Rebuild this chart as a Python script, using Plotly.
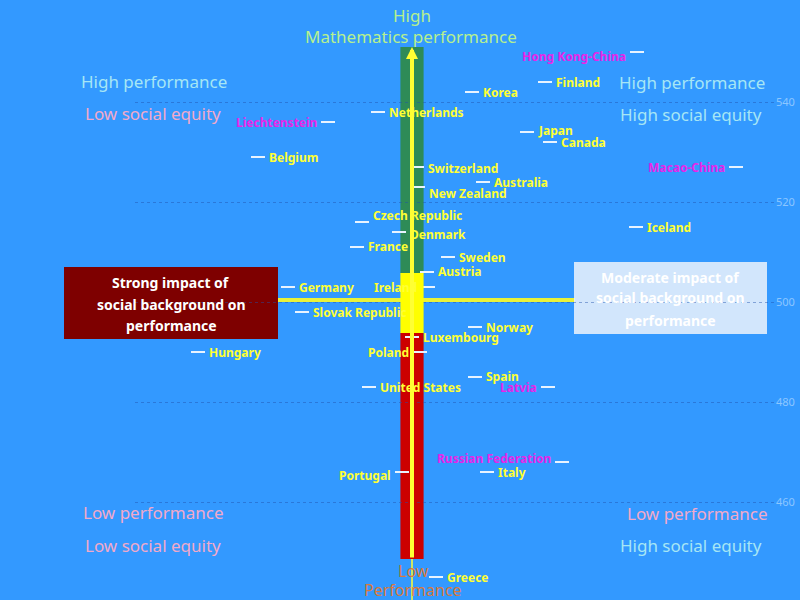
import plotly.graph_objects as go

# ---------------- data ----------------
countries = ["Hong Kong-China", "Finland", "Korea", "Netherlands", "Liechtenstein",
             "Japan", "Canada", "Belgium", "Macao-China", "Switzerland", "Australia",
             "New Zealand", "Czech Republic", "Iceland", "Denmark", "France", "Sweden",
             "Austria", "Germany", "Ireland", "Slovak Republic", "Norway", "Luxembourg",
             "Poland", "Hungary", "Spain", "United States", "Latvia",
             "Russian Federation", "Portugal", "Italy", "Greece"]
# percentage of variance in performance explained by social background
variance = [8.9, 13.5, 17.15, 21.85, 24.35,
            14.4, 13.25, 27.85, 3.95, 19.9, 16.6,
            19.85, 22.65, 8.95, 20.8, 22.9, 18.35,
            19.4, 26.35, 19.35, 25.65, 17.0, 20.15,
            19.75, 30.85, 17.0, 22.3, 13.35,
            12.65, 20.65, 16.4, 18.95]
math_score = [550, 544, 542, 538, 536,
              534, 532, 529, 527, 527, 524,
              523, 516, 515, 514, 511, 509,
              506, 503, 503, 498, 495, 493,
              490, 490, 485, 483, 483,
              468, 466, 466, 445]
partner = [True, False, False, False, True,
           False, False, False, True, False, False,
           False, False, False, False, False, False,
           False, False, False, False, False, False,
           False, False, False, False, True,
           True, False, False, False]
# label placement (style): side of the dash and vertical nudge in px (positive = up)
label_side = ["l", "r", "r", "r", "l",
              "r", "r", "r", "l", "r", "r",
              "r", "r", "r", "r", "r", "r",
              "r", "r", "l", "r", "r", "r",
              "l", "r", "r", "r", "l",
              "l", "l", "r", "r"]
label_dy = [-4, 0, 0, 0, 0,
            2, 0, 0, 0, -1, 0,
            -6, 7, 0, -2, 1, 0,
            1, 0, 0, 0, 0, 0,
            0, 0, 1, 0, 0,
            4, -3, 0, 0]

y_ticks = [460, 480, 500, 520, 540]

# ---------------- reference structure ----------------
OECD_X = 20.15          # OECD average strength of relationship
OECD_Y = 500.4          # OECD average performance
BAND_HALF = 0.58
GREEN_TOP, YELLOW_TOP, YELLOW_BOT, RED_BOT = 551, 505.8, 493.8, 448.6
X_RANGE = [34, 2]
Y_RANGE = [440.4, 560.4]

BG = "#3399FF"
YEL = "#FFFF33"
MAG = "#E825E8"
CYAN = "#A6E6F5"
PINK = "#F2A9C9"
GREEN_T = "#B6F08E"
ORANGE = "#D9793C"

ML, MR = 135, 25
PW = 800 - ML - MR


def fx(px):
    return (px - ML) / PW


def fy(py):
    return 1 - py / 600


fig = go.Figure()

fig.add_trace(go.Scatter(
    x=variance, y=math_score, mode="markers",
    marker=dict(symbol="line-ew", size=10, line=dict(color="#E8F3FF", width=2)),
    cliponaxis=False, hoverinfo="skip", showlegend=False))

annotations = []
for c, xv, yv, p, side, dy in zip(countries, variance, math_score, partner, label_side, label_dy):
    annotations.append(dict(
        x=xv, y=yv, xref="x", yref="y", text=c, showarrow=False,
        xanchor="left" if side == "r" else "right", yanchor="middle",
        xshift=9 if side == "r" else -9, yshift=dy,
        font=dict(family="Noto Sans", size=12, color=MAG if p else YEL, weight="bold")))

shapes = []
# vertical band
shapes.append(dict(type="rect", xref="x", yref="y", x0=OECD_X - BAND_HALF, x1=OECD_X + BAND_HALF,
                   y0=YELLOW_TOP, y1=GREEN_TOP, fillcolor="#2E8B57", line=dict(width=0), layer="below"))
shapes.append(dict(type="rect", xref="x", yref="y", x0=OECD_X - BAND_HALF, x1=OECD_X + BAND_HALF,
                   y0=RED_BOT, y1=YELLOW_BOT, fillcolor="#CC0000", line=dict(width=0), layer="below"))
shapes.append(dict(type="rect", xref="x", yref="y", x0=OECD_X - BAND_HALF, x1=OECD_X + BAND_HALF,
                   y0=YELLOW_BOT, y1=YELLOW_TOP, fillcolor="#FFFF00", line=dict(width=0), layer="above"))
# thin line below band
shapes.append(dict(type="line", xref="x", yref="y", x0=OECD_X, x1=OECD_X, y0=Y_RANGE[0], y1=RED_BOT,
                   line=dict(color=YEL, width=1.5), layer="below"))
# horizontal yellow line
shapes.append(dict(type="line", xref="paper", yref="y", x0=fx(277), x1=fx(575), y0=OECD_Y, y1=OECD_Y,
                   line=dict(color="#E9F23A", width=4), layer="below"))
# boxes
shapes.append(dict(type="rect", xref="paper", yref="paper", x0=fx(64), x1=fx(278), y0=fy(339), y1=fy(267),
                   fillcolor="#7E0000", line=dict(width=0), layer="below"))
shapes.append(dict(type="rect", xref="paper", yref="paper", x0=fx(574), x1=fx(767), y0=fy(334), y1=fy(262),
                   fillcolor="rgba(232,240,252,0.88)", line=dict(width=0), layer="below"))

# arrow
annotations.append(dict(x=OECD_X, y=GREEN_TOP, ax=OECD_X, ay=RED_BOT, xref="x", yref="y",
                        axref="x", ayref="y", text="", showarrow=True, arrowhead=2,
                        arrowsize=0.6, arrowwidth=4, arrowcolor=YEL))


def txt(px, py, s, color, size=16, weight="normal"):
    annotations.append(dict(x=fx(px), y=fy(py), xref="paper", yref="paper", text=s,
                            showarrow=False, xanchor="center", yanchor="middle",
                            font=dict(family="Noto Sans", size=size, color=color, weight=weight)))


txt(412, 15, "High", GREEN_T, 17)
txt(411, 37, "Mathematics performance", GREEN_T, 17)
txt(154, 81, "High performance", CYAN, 17)
txt(153, 113, "Low social equity", PINK, 17)
txt(692, 83, "High performance", CYAN, 17)
txt(691, 115, "High social equity", CYAN, 17)
txt(153, 512, "Low performance", PINK, 17)
txt(153, 545, "Low social equity", PINK, 17)
txt(697, 513, "Low performance", PINK, 17)
txt(691, 545, "High social equity", CYAN, 17)
txt(413, 571, "Low", ORANGE, 16)
txt(413, 590, "Performance", ORANGE, 16)
txt(171, 282, "Strong impact of", "white", 14, "bold")
txt(171, 304, "social background on", "white", 14, "bold")
txt(171, 325, "performance", "white", 14, "bold")
txt(670, 277, "Moderate impact of", "white", 14, "bold")
txt(670, 298, "social background on", "white", 14, "bold")
txt(670, 320, "performance", "white", 14, "bold")

fig.update_layout(
    width=800, height=600,
    margin=dict(l=ML, r=MR, t=0, b=0, pad=0),
    paper_bgcolor=BG, plot_bgcolor="rgba(0,0,0,0)",
    shapes=shapes, annotations=annotations,
    xaxis=dict(range=X_RANGE, visible=False, showgrid=False, zeroline=False),
    yaxis=dict(range=Y_RANGE, side="right", tickvals=y_ticks, ticks="",
               tickfont=dict(family="Noto Sans", size=11, color="#8CC6FF"),
               showgrid=True, gridcolor="rgba(30,80,170,0.45)", griddash="dot", gridwidth=1,
               zeroline=False, showline=False),
)

fig.write_html("out.html")
